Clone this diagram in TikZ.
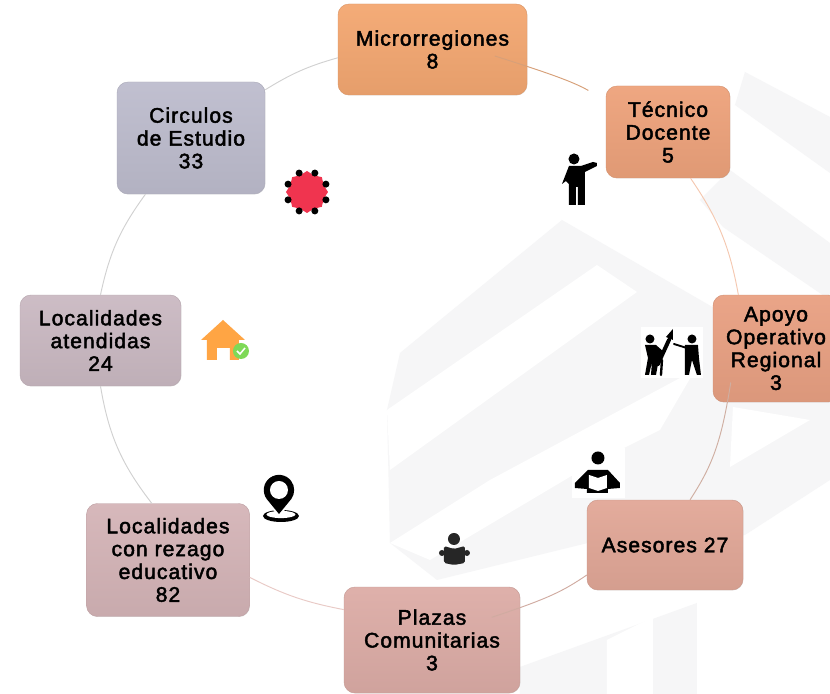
\documentclass[tikz,border=0pt]{standalone}
\usepackage{fontspec}
\setmainfont{Liberation Sans}[FakeBold=2.2,LetterSpace=5]
\usetikzlibrary{positioning,shadows}

\definecolor{cmicro}{HTML}{F4A872}
\definecolor{ctecnico}{HTML}{EEA37C}
\definecolor{capoyo}{HTML}{E9A183}
\definecolor{casesor}{HTML}{E2A898}
\definecolor{cplaza}{HTML}{DDADA7}
\definecolor{crezago}{HTML}{D5B5B8}
\definecolor{catendida}{HTML}{CBBAC3}
\definecolor{ccirculo}{HTML}{BEBDCE}
\definecolor{wmark}{HTML}{F6F6F7}
\definecolor{cburst}{HTML}{F0344F}
\definecolor{chouse}{HTML}{FFA544}
\definecolor{ccheck}{HTML}{7ED957}

\tikzset{
	box/.style 2 args={rectangle, rounded corners=.33cm, align=center, inner sep=0pt,
		minimum width=#1*.03cm, minimum height=#2*.03cm, font=\fontsize{18}{19.5}\selectfont,
		text=black, drop shadow={shadow xshift=.4pt, shadow yshift=-.4pt, opacity=.25}},
	tint/.style={top color=#1!96!white, middle color=#1, bottom color=#1!94!black, draw=#1!90!black, line width=.4pt},
	link/.style={draw=#1, line width=.8pt},
	band/.style={fill=wmark, draw=none},
	gap/.style={fill=white, draw=none},
	icon/.style={x=.03cm, y=-.03cm},
}

\begin{document}
\begin{tikzpicture}[on grid]
	\clip (0,0) rectangle (24.9,-20.82);
	\fill [white] (0,0) rectangle (24.9,-20.82);

	% watermark
	\begin{scope}[icon]
		\path [band] (387,410) -- (400,353) -- (562,220) -- (830,375) -- (830,480) -- (745,535) -- (600,540) -- (437,580) -- (390,543) -- cycle;
		\path [gap] (387,410) -- (597,265) -- (637,292) -- (390,470) -- cycle;
		\path [gap] (390,543) -- (490,480) -- (695,370) -- (660,430) -- (590,465) -- (430,560) -- cycle;
		\path [gap] (733,407) -- (810,420) -- (730,467) -- cycle;
		\path [band] (745,72) -- (830,117) -- (830,173) -- (735,105) -- cycle;
		\path [band] (730,170) -- (830,243) -- (830,300) -- (723,227) -- (700,200) -- cycle;
		\path [band] (520,667) -- (697,603) -- (697,694) -- (520,694) -- cycle;
		\path [gap] (607,640) -- (653,617) -- (653,694) -- (607,694) -- cycle;
	\end{scope}

	\node [box={189}{91}, tint=cmicro] (micro) at (12.975,-1.485) {Microrregiones\\8};
	\node [box={124}{92}, tint=ctecnico, below right=2.475 and 7.065of micro] (tecnico) {Técnico\\Docente\\5};
	\node [box={126}{107}, tint=capoyo, below right=6.495 and 3.24of tecnico] (apoyo) {Apoyo\\Operativo\\Regional\\3};
	\node [box={156}{90}, tint=casesor, below left=5.895 and 3.33of apoyo] (asesores) {Asesores 27};
	\node [box={176}{106}, tint=cplaza, below left=2.85 and 6.99of asesores] (plazas) {Plazas\\Comunitarias\\3};
	\node [box={163}{113}, tint=crezago, above left=2.4 and 7.92of plazas] (rezago) {Localidades\\con rezago\\educativo\\82};
	\node [box={161}{91}, tint=catendida, above left=6.585 and 2.025of rezago] (atendidas) {Localidades\\atendidas\\24};
	\node [box={148}{112}, tint=ccirculo, above right=6.075 and 2.715of atendidas] (circulos) {Circulos\\de Estudio\\33};

	\draw [link=cmicro!85!black!85!white, shorten <=-1.02cm, shorten >=.6cm] (micro.-10) to [bend left=6] (tecnico.153);
	\draw [link=ctecnico!60!white] (tecnico.-64) to [bend left=12] (apoyo.125);
	\draw [link=capoyo!75!black!60!white, shorten <=-.6cm] (apoyo.-132) to [bend left=12] (asesores.61);
	\draw [link=casesor!85!black!75!white, shorten >=-.9cm] (asesores.201) to [bend left=8] (plazas.20);
	\draw [link=cplaza!65!white] (plazas.161) to [bend left=8] (rezago.-12);
	\draw [link=black!18] (rezago.106) to [bend left=14] (atendidas.-90);
	\draw [link=black!18] (atendidas.90) to [bend left=12] (circulos.-129);
	\draw [link=black!18] (circulos.33) to [bend left=8] (micro.185);

	% teacher
	\begin{scope}[icon]
		\path [gap] (558,150) rectangle (598,206);
		\fill [black] (574,159) circle (5.5);
		\fill [black] (569,166) -- (581,166) -- (593,162) -- (597,163) -- (597,166) -- (585,172) -- (585,205)
			-- (578,205) -- (578,187) -- (576,187) -- (576,205) -- (569,205) -- (569,184) -- (566,181) -- (562,184) -- cycle;
	\end{scope}

	% two people with pencil
	\begin{scope}[icon, line cap=round]
		\path [gap] (641,327) rectangle (703,378);
		\fill [black] (650,339) circle (4.5);
		\fill [black] (692,339) circle (4.5);
		\draw [line width=3.4pt] (669,340) -- (658,364);
		\fill [black] (673,329) -- (666,337) -- (673,340) -- cycle;
		\fill [black] (645,345) -- (656,345) -- (664,352) -- (659,359) -- (656,375) -- (651,375) -- (652,362)
			-- (649,375) -- (645,375) -- (648,358) -- cycle;
		\draw [line width=2pt] (661,375) -- (662,360);
		\fill [black] (685,345) -- (698,345) -- (699,358) -- (701,375) -- (697,375) -- (692,360) -- (689,375) -- (685,375) -- cycle;
		\draw [line width=1.6pt] (674,344) -- (690,349);
	\end{scope}

	% reader with open book
	\begin{scope}[icon]
		\path [gap] (572,448) rectangle (625,498);
		\fill [black] (598,458) circle (6.5);
		\fill [black] (588,470) -- (608,470) -- (620,483) -- (620,488) -- (608,489) -- (608,493) -- (587,493)
			-- (587,489) -- (575,488) -- (575,483) -- cycle;
		\fill [white] (589,475) -- (598,478) -- (607,475) -- (607,488) -- (598,491) -- (589,488) -- cycle;
	\end{scope}

	% small reader
	\begin{scope}[icon]
		\fill [black!85] (454,539) circle (6);
		\fill [black!85, rounded corners=1.5] (444,546) -- (454,549) -- (465,546) -- (465,563) -- (454,565) -- (444,563) -- cycle;
		\fill [black!85] (442,553) circle (3);
		\fill [black!85] (467,553) circle (3);
	\end{scope}

	% map pin
	\begin{scope}[icon]
		\fill [black] (281,516) ellipse (18 and 6);
		\fill [white] (281,514.5) ellipse (14.5 and 3.6);
		\fill [white] (279,517) -- (264,499) -- (294,499) -- cycle;
		\fill [black] (279,514) -- (266.7,499) arc (144:396:15.2) -- cycle;
		\fill [white] (279,490) circle (9);
	\end{scope}

	% red burst
	\begin{scope}[icon, shift={(307,192)}]
		\fill [cburst] (90:21) \foreach \i in {1,...,15} { -- ({90+\i*22.5}:{mod(\i,2)==0 ? 21 : 18}) } -- cycle;
		\foreach \a in {22.5,67.5,...,337.5}
			\fill [black] (\a:20.5) circle (3.5);
	\end{scope}

	% house with check mark
	\begin{scope}[icon]
		\fill [chouse] (223,320) -- (245,340) -- (239,340) -- (239,360) -- (230,360) -- (230,348)
			-- (217,348) -- (217,360) -- (207,360) -- (207,340) -- (201,340) -- cycle;
		\fill [ccheck] (241,351) circle (8);
		\draw [white, line width=1.3pt] (237,351) -- (240,354) -- (245,348);
	\end{scope}
\end{tikzpicture}
\end{document}
